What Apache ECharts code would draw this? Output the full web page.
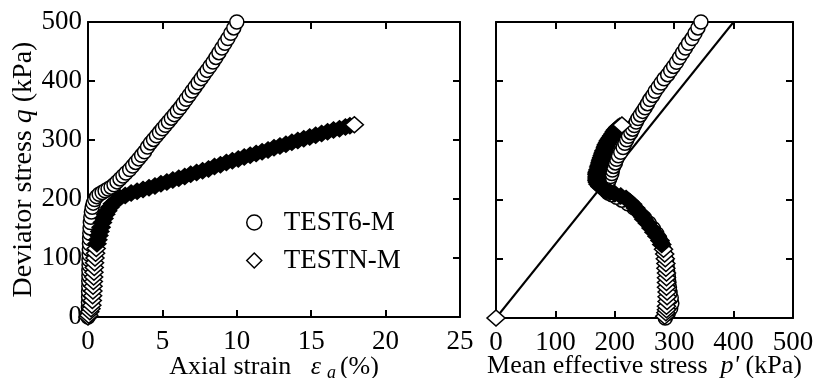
<!DOCTYPE html>
<html>
<head>
<meta charset="utf-8">
<script src="https://cdn.jsdelivr.net/npm/echarts@6/dist/echarts.min.js"></script>
<style>
html,body{margin:0;padding:0;background:#fff;}
#c{width:813px;height:378px;}
</style>
</head>
<body>
<div id="c"></div>
<script>
// ---- DATA ----
// TEST6-M (circles): axial strain (%), deviator stress q (kPa), mean effective stress p' (kPa)
var test6Strain = [0.00,0.02,0.03,0.03,0.04,0.04,0.05,0.05,0.06,0.06,0.07,0.07,0.08,0.09,0.10,0.11,0.12,0.14,0.16,0.19,0.23,0.28,0.35,0.45,0.58,0.75,0.95,1.15,1.35,1.55,1.75,1.95,2.15,2.35,2.55,
  2.8,3.0,3.2,3.4,3.6,3.8,4.0,4.2,4.4,4.6,4.8,5.0,5.2,5.4,5.6,5.8,6.0,6.2,6.4,6.6,6.8,7.0,7.2,7.4,7.6,7.8,8.0,8.2,8.4,8.6,8.8,9.0,9.2,9.4,9.6,9.8,10.0];
var test6Q = [0,8,16,25,34,43,52,61,70,79,88,97,106,115,124,133,142,151,160,169,178,186,193,199,204,208,211,214,217,220,224,229,234,239,244,
  250,256,262,268,274,280,288,295,301,307,313,319,325,331,337,343,349,355,362,369,376,383,390,397,404,411,418,425,432,440,448,456,464,472,481,490,500];
var test6P = [285,290,294,296,295,293,292,291,290,289,288,287,285,283,280,276,271,265,258,250,241,232,222,212,203,195,189,186,185,186,187,189,191,193,195,
  196,198,201,203,206,210,214,217,220,223,227,230,233,236,239,243,247,251,255,259,264,268,273,278,283,289,294,299,304,309,314,319,324,330,335,340,345];

// TESTN-M (diamonds)
var testNStrain = [0,0.05,0.12,0.2,0.26,0.29,0.31,0.33,0.34,0.36,0.38,0.40,0.42,0.44,0.47,0.51,0.55,0.60,0.66,0.73,0.80,0.88,0.97,1.07,1.19,1.32,1.47,1.65,1.88,2.15,2.5,2.9,3.3,3.7,4.1,4.5,4.9,5.3,5.7,6.1,6.5,6.9,7.3,7.7,8.1,8.5,8.9,9.3,9.7,10.1,10.5,10.9,11.3,11.7,12.1,12.5,12.9,13.3,13.7,14.1,14.5,14.9,15.3,15.7,16.1,16.5,16.9,17.3,17.6,17.9];
var testNQ = [0,3,9,14,20,28,36,44,52,60,68,76,84,92,100,108,116,124,131,138,145,152,160,167,174,180,186,192,197,202,206,210,213,216,219,222,226,229,232,235,238,242,245,248,251,255,258,262,265,268,271,274,277,280,283,287,290,293,296,299,302,305,308,311,314,317,319,322,324,326];
var testNP = [0,284,286,287,287,288,288,288,287,287,287,287,286,286,285,284,282,279,276,271,266,261,255,249,245,240,235,230,225,219,210,200,192,185,179,175,172,171,170,170,170,170,170,171,172,173,174,175,176,177,178,179,180,181,182,184,185,186,188,189,191,193,195,197,199,201,203,205,208,212];

// critical state line in p'-q plane
var cslP = [0, 400];
var cslQ = [0, 500];

var xTicksLeft = [0, 25, 5];     // min, max, interval
var xTicksRight = [0, 500, 100];
var yTicks = [0, 500, 100];

// ---- CHART ----
var FONT = '"Liberation Serif","Times New Roman",serif';
function pairs(xs, ys) { return xs.map(function (x, i) { return [x, ys[i]]; }); }
function diamondData(xs, ys, qs) {
  var last = xs.length - 1;
  return xs.map(function (x, i) {
    var dark = qs[i] > 120 && i < last;
    return { value: [x, ys[i]], itemStyle: { color: dark ? '#000' : '#fff' } };
  });
}

var axisLine = { show: true, onZero: false, lineStyle: { color: '#000', width: 2 } };
var axisTick = { show: true, inside: true, length: 7, lineStyle: { color: '#000', width: 2 } };
var labelStyle = { color: '#000', fontFamily: FONT, fontSize: 27 };

function xAx(grid, t, pos, showLabel, name) {
  var a = {
    type: 'value', gridIndex: grid, position: pos, min: t[0], max: t[1], interval: t[2],
    axisLine: axisLine, axisTick: axisTick, splitLine: { show: false },
    axisLabel: showLabel ? Object.assign({ margin: 11, hideOverlap: false }, labelStyle) : { show: false }
  };
  if (name) {
    a.name = name.text; a.nameLocation = 'middle'; a.nameGap = name.gap; a.nameMoveOverlap = false;
    a.nameTextStyle = { color: '#000', fontFamily: FONT, fontSize: 26, rich: name.rich };
  }
  return a;
}
function yAx(grid, pos, showLabel, name) {
  var a = {
    type: 'value', gridIndex: grid, position: pos, min: yTicks[0], max: yTicks[1], interval: yTicks[2],
    axisLine: axisLine, axisTick: axisTick, splitLine: { show: false },
    axisLabel: showLabel ? Object.assign({ margin: 6 }, labelStyle) : { show: false }
  };
  if (name) {
    a.name = name.text; a.nameLocation = 'middle'; a.nameGap = name.gap; a.nameRotate = 90;
    a.nameTextStyle = { color: '#000', fontFamily: FONT, fontSize: 28, rich: name.rich };
  }
  return a;
}

var richIt = {
  it: { fontStyle: 'italic', fontFamily: FONT, fontSize: 26, color: '#000' },
  sub: { fontStyle: 'italic', fontFamily: FONT, fontSize: 18, color: '#000', padding: [12, 4, 0, 6] }
};
var richY = { it: { fontStyle: 'italic', fontFamily: FONT, fontSize: 28, color: '#000' } };

var circleStyle = { color: '#fff', borderColor: '#000', borderWidth: 1.5, opacity: 1 };
var diamondStyle = { color: '#fff', borderColor: '#000', borderWidth: 1.5, opacity: 1 };

var option = {
  backgroundColor: '#fff',
  animation: false,
  grid: [
    { left: 88, top: 22, width: 372, height: 295, containLabel: false, outerBoundsMode: 'none' },
    { left: 496, top: 22, width: 297, height: 296, containLabel: false, outerBoundsMode: 'none' }
  ],
  legend: {
    data: [
      { name: 'TEST6-M', icon: 'circle', itemStyle: circleStyle },
      { name: 'TESTN-M', icon: 'diamond', itemStyle: diamondStyle }
    ],
    orient: 'vertical', left: 241, top: 204, itemWidth: 15, itemHeight: 15, itemGap: 11,
    textStyle: { color: '#000', fontFamily: FONT, fontSize: 27, padding: [0, 0, 0, 17] },
    selectedMode: false
  },
  xAxis: [
    xAx(0, xTicksLeft, 'bottom', true, { text: 'Axial strain   {it|ε}{sub|a}(%)', gap: 35, rich: richIt }),
    xAx(0, xTicksLeft, 'top', false),
    xAx(1, xTicksRight, 'bottom', true, { text: "Mean effective stress  {it|p'} (kPa)", gap: 35, rich: richIt }),
    xAx(1, xTicksRight, 'top', false)
  ],
  yAxis: [
    yAx(0, 'left', true, { text: 'Deviator stress {it|q} (kPa)', gap: 50, rich: richY }),
    yAx(0, 'right', false),
    yAx(1, 'left', false),
    yAx(1, 'right', false)
  ],
  series: [
    { name: 'TEST6-M', type: 'scatter', xAxisIndex: 0, yAxisIndex: 0, clip: false, symbol: 'circle', symbolSize: 14,
      itemStyle: circleStyle, data: pairs(test6Strain, test6Q), z: 2 },
    { name: 'TESTN-M', type: 'scatter', xAxisIndex: 0, yAxisIndex: 0, clip: false, symbol: 'diamond', symbolSize: [18, 16],
      itemStyle: diamondStyle, data: diamondData(testNStrain, testNQ, testNQ), z: 3 },
    { name: 'TEST6-M', type: 'scatter', xAxisIndex: 2, yAxisIndex: 2, clip: false, symbol: 'circle', symbolSize: 14,
      itemStyle: circleStyle, data: pairs(test6P, test6Q), z: 2 },
    { name: 'TESTN-M', type: 'scatter', xAxisIndex: 2, yAxisIndex: 2, clip: false, symbol: 'diamond', symbolSize: [18, 16],
      itemStyle: diamondStyle, data: diamondData(testNP, testNQ, testNQ), z: 3 },
    { name: 'CSL', type: 'line', xAxisIndex: 2, yAxisIndex: 2, symbol: 'none', silent: true,
      lineStyle: { color: '#000', width: 2 }, data: pairs(cslP, cslQ), z: 1 }
  ]
};

var chart = echarts.init(document.getElementById('c'), null, { renderer: 'canvas' });
chart.setOption(option);
</script>
</body>
</html>
